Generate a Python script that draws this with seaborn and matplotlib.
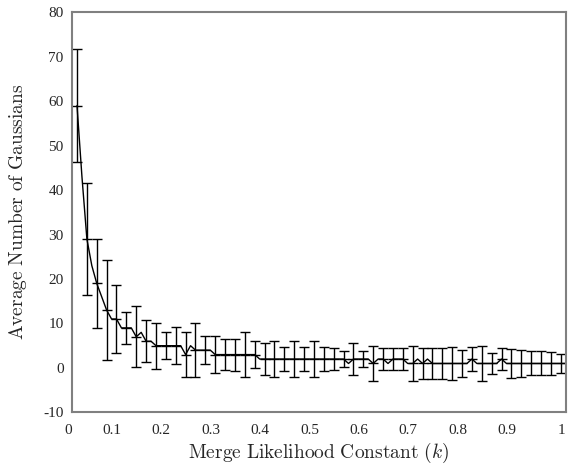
import numpy as np
import pandas as pd
import seaborn as sns
import matplotlib.pyplot as plt

# line values, every 0.01 from 0.01 to 1.00
k_line = np.round(np.arange(0.01, 1.0001, 0.01), 2)
avg_line = [
    59, 43, 29, 23, 19, 16, 13, 11, 11, 9,        # 0.01 - 0.10
    9, 9, 7, 8, 6, 6, 5, 5, 5, 5,                  # 0.11 - 0.20
    5, 5, 3, 5, 4, 4, 4, 4, 3, 3,                  # 0.21 - 0.30
    3, 3, 3, 3, 3, 3, 3, 2, 2, 2,                  # 0.31 - 0.40
    2, 2, 2, 2, 2, 2, 2, 2, 2, 2,                  # 0.41 - 0.50
    2, 2, 2, 2, 2, 1, 2, 2, 2, 2,                  # 0.51 - 0.60
    1, 2, 2, 1, 2, 2, 2, 1, 1, 2,                  # 0.61 - 0.70
    1, 2, 1, 1, 1, 1, 1, 1, 1, 1,                  # 0.71 - 0.80
    2, 1, 1, 1, 1, 1, 2, 1, 1, 1,                  # 0.81 - 0.90
    1, 1, 1, 1, 1, 1, 1, 1, 1, 1,                  # 0.91 - 1.00
]

# error bars every 0.02, from 0.01
k_bars = np.round(np.arange(0.01, 1.0, 0.02), 2)
avg_bars = [
    59, 29, 19, 13, 11, 9, 7, 6, 5, 5,
    5, 3, 4, 4, 3, 3, 3, 3, 3, 2,
    2, 2, 2, 2, 2, 2, 2, 2, 2, 2,
    1, 2, 2, 2, 1, 1, 1, 1, 1, 1,
    2, 1, 1, 2, 1, 1, 1, 1, 1, 1,
]
err_bars = [
    12.7, 12.5, 10.0, 11.2, 7.7, 3.6, 6.9, 4.7, 5.2, 3.1,
    4.1, 5.0, 6.1, 3.1, 4.1, 3.4, 3.6, 5.0, 3.1, 3.6,
    4.1, 2.7, 4.0, 2.8, 4.0, 2.7, 2.4, 1.7, 3.6, 1.8,
    3.9, 2.5, 2.5, 2.5, 4.0, 3.5, 3.5, 3.5, 3.8, 3.0,
    2.6, 4.0, 2.4, 2.4, 3.2, 3.0, 2.7, 2.7, 2.5, 2.2,
]

x_ticks = ["0", "0.1", "0.2", "0.3", "0.4", "0.5", "0.6", "0.7", "0.8", "0.9", "1"]
y_ticks = ["-10", "0", "10", "20", "30", "40", "50", "60", "70", "80"]

df = pd.DataFrame({"k": k_line, "avg": avg_line})

sns.set_style("white")
plt.rcParams["font.family"] = ["Liberation Serif", "DejaVu Serif"]
plt.rcParams["mathtext.fontset"] = "cm"

fig = plt.figure(figsize=(5.72, 4.66), dpi=100)
ax = fig.add_axes([0.126, 0.115, 0.863, 0.859])

sns.lineplot(data=df, x="k", y="avg", color="black", linewidth=1.0, ax=ax)
ax.errorbar(k_bars, avg_bars, yerr=err_bars, fmt="_", color="black",
            markersize=6.5, elinewidth=1.0, capsize=3.3, capthick=1.0)

ax.set_xlim(0, 1)
ax.set_ylim(-10, 80)
ax.set_xticks(np.arange(0, 1.01, 0.1))
ax.set_xticklabels(x_ticks, ha="right")
ax.set_yticks(range(-10, 81, 10))
ax.set_yticklabels(y_ticks)
ax.tick_params(length=0, labelsize=11)
ax.tick_params(axis="x", pad=8)
ax.tick_params(axis="y", pad=6)

for s in ax.spines.values():
    s.set_color("#808080")
    s.set_linewidth(1.5)

ax.set_xlabel(r"$\mathrm{Merge\ Likelihood\ Constant}\ (k)$", fontsize=14, labelpad=3)
ax.set_ylabel(r"$\mathrm{Average\ Number\ of\ Gaussians}$", fontsize=14, labelpad=10)

fig.savefig("out.png", dpi=100)
